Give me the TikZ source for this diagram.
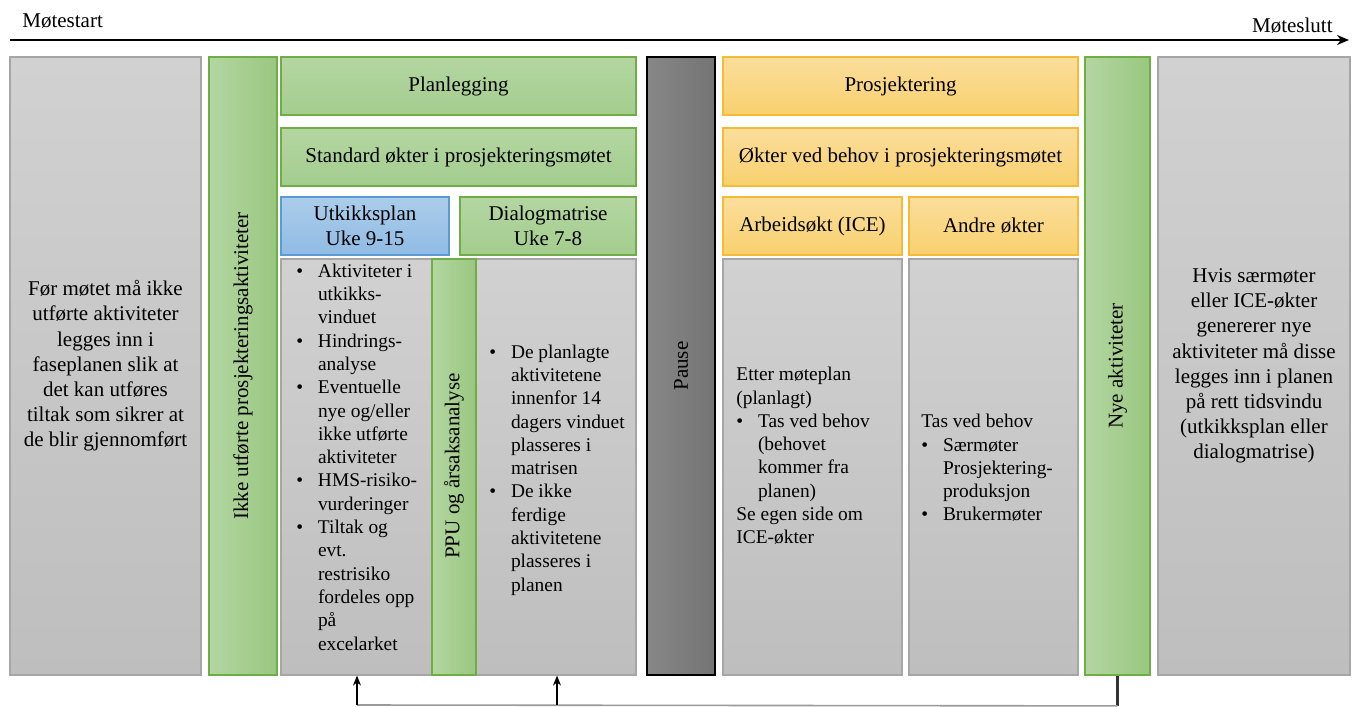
\documentclass[tikz,border=0pt]{standalone}
\usepackage{fontspec}
\setmainfont{Liberation Serif}
\usetikzlibrary{fit,arrows.meta}

\definecolor{grayTop}{HTML}{D1D1D1}
\definecolor{grayBot}{HTML}{BEBEBE}
\definecolor{grayLine}{HTML}{A6A6A6}
\definecolor{greenL}{HTML}{B4D6A2}
\definecolor{greenR}{HTML}{99C780}
\definecolor{greenB}{HTML}{A4CD8E}
\definecolor{greenLine}{HTML}{70AD47}
\definecolor{amberTop}{HTML}{FBDE9C}
\definecolor{amberBot}{HTML}{F8D06E}
\definecolor{amberLine}{HTML}{F5BB35}
\definecolor{blueTop}{HTML}{ABCDEB}
\definecolor{blueBot}{HTML}{90BBE4}
\definecolor{blueLine}{HTML}{5B9BD5}
\definecolor{pauseL}{HTML}{878787}
\definecolor{pauseM}{HTML}{8F8F8F}
\definecolor{pauseR}{HTML}{747474}
\definecolor{linkGray}{HTML}{9A9A9A}

% bullet and continuation indents for the lists
\newcommand\bi{\makebox[10.8pt][l]{\textbullet}}
\newcommand\ci{\hspace*{10.8pt}}

\tikzset{
  panel/.style={inner sep=0pt, line width=0.6pt},
  graybox/.style={panel, draw=grayLine, top color=grayTop, bottom color=grayBot},
  greenv/.style={panel, draw=greenLine, left color=greenL, right color=greenR, line width=0.9pt},
  greenh/.style={panel, draw=greenLine, top color=greenL, bottom color=greenB, line width=0.9pt},
  amberbox/.style={panel, draw=amberLine, top color=amberTop, bottom color=amberBot},
  bluebox/.style={panel, draw=blueLine, top color=blueTop, bottom color=blueBot},
  pausebox/.style={panel, draw=black, left color=pauseL, middle color=pauseM, right color=pauseR, line width=1.1pt},
  head/.style={font=\fontsize{10.5}{12.6}\selectfont, align=center, inner sep=0pt},
  body/.style={font=\fontsize{9.7}{11.65}\selectfont, align=left, inner sep=0pt, anchor=west},
  timeline/.style={line width=1pt, -{Stealth[length=6pt,width=5pt]}},
  uparrow/.style={line width=0.7pt, -{Stealth[length=5pt,width=4pt]}},
}

\begin{document}
\begin{tikzpicture}[x=0.5pt,y=-0.5pt]
\useasboundingbox (0,0) rectangle (1353,706);

% time axis
\coordinate (tstart) at (10,40);
\coordinate (tend) at (1349,40);
\draw[timeline] (tstart) -- (tend);
\node[head, anchor=west] (start) at (22,21) {Møtestart};
\node[head, anchor=east] (slutt) at (1333,26) {Møteslutt};

% columns
\node[graybox, fit={(10,57) (201,675)}] (pre) {};
\node[head] (pretxt) at (pre.center) {Før møtet må ikke\\utførte aktiviteter\\legges inn i\\faseplanen slik at\\det kan utføres\\tiltak som sikrer at\\de blir gjennomført};

\node[greenv, fit={(209,57) (277,675)}] (ikke) {};
\node[head, rotate=90] (ikketxt) at (ikke.center) {Ikke utførte prosjekteringsaktiviteter};

% planning block
\node[greenh, fit={(281,57) (636,115)}] (plan) {};
\node[head] (plantxt) at (plan.center) {Planlegging};
\node[greenh, fit={(281,128) (636,186)}] (std) {};
\node[head] (stdtxt) at (std.center) {Standard økter i prosjekteringsmøtet};
\node[bluebox, fit={(281,197) (449,255)}] (utk) {};
\node[head] (utktxt) at (utk.center) {Utkikksplan\\Uke 9-15};
\node[greenh, fit={(460,197) (636,255)}] (dia) {};
\node[head] (diatxt) at (dia.center) {Dialogmatrise\\Uke 7-8};

\node[graybox, fit={(281,259) (432,675)}] (ulist) {};
\node[body] (ulisttxt) at (296,457) {\bi Aktiviteter i\\\ci utkikks-\\\ci vinduet\\\bi Hindrings-\\\ci analyse\\\bi Eventuelle\\\ci nye og/eller\\\ci ikke utførte\\\ci aktiviteter\\\bi HMS-risiko-\\\ci vurderinger\\\bi Tiltak og\\\ci evt.\\\ci restrisiko\\\ci fordeles opp\\\ci på\\\ci excelarket};

\node[graybox, fit={(476,259) (636,675)}] (dlist) {};
\node[body] (dlisttxt) at (489,470) {\bi De planlagte\\\ci aktivitetene\\\ci innenfor 14\\\ci dagers vinduet\\\ci plasseres i\\\ci matrisen\\\bi De ikke\\\ci ferdige\\\ci aktivitetene\\\ci plasseres i\\\ci planen};

\node[greenv, fit={(432,259) (476,675)}] (ppu) {};
\node[head, rotate=90] (pputxt) at (454,466) {PPU og årsaksanalyse};

% break
\node[pausebox, fit={(647,57) (715,675)}] (pause) {};
\node[head, rotate=90] (pausetxt) at (pause.center) {Pause};

% design block
\node[amberbox, fit={(723,57) (1078,115)}] (pros) {};
\node[head] (prostxt) at (pros.center) {Prosjektering};
\node[amberbox, fit={(723,128) (1078,186)}] (okt) {};
\node[head] (okttxt) at (okt.center) {Økter ved behov i prosjekteringsmøtet};
\node[amberbox, fit={(723,197) (902,255)}] (arb) {};
\node[head] (arbtxt) at (arb.center) {Arbeidsøkt (ICE)};
\node[amberbox, fit={(909,197) (1078,255)}] (andre) {};
\node[head] (andretxt) at (andre.center) {Andre økter};

\node[graybox, fit={(723,259) (902,675)}] (alist) {};
\node[body] (alisttxt) at (736,456) {Etter møteplan\\(planlagt)\\\bi Tas ved behov\\\ci (behovet\\\ci kommer fra\\\ci planen)\\Se egen side om\\ICE-økter};
\node[graybox, fit={(909,259) (1078,675)}] (olist) {};
\node[body] (olisttxt) at (921,468) {Tas ved behov\\\bi Særmøter\\\ci Prosjektering-\\\ci produksjon\\\bi Brukermøter};

\node[greenv, fit={(1085,57) (1150,675)}] (nye) {};
\node[head, rotate=90] (nyetxt) at (nye.center) {Nye aktiviteter};

\node[graybox, fit={(1158,57) (1350,675)}] (post) {};
\node[head] (posttxt) at (post.center) {Hvis særmøter\\eller ICE-økter\\genererer nye\\aktiviteter må disse\\legges inn i planen\\på rett tidsvindu\\(utkikksplan eller\\dialogmatrise)};

% feedback of new activities into the plans
\draw[line width=1.5pt, draw=black!80] (nye.south) -- ++(0,30) coordinate (fb);
\coordinate (c1) at (357,705);
\coordinate (c2) at (557,705);
\draw[linkGray, line width=0.8pt] (fb) -- (c1);
\draw[uparrow] (c1) -- (c1 |- ulist.south);
\draw[uparrow] (c2) -- (c2 |- dlist.south);
\end{tikzpicture}
\end{document}
